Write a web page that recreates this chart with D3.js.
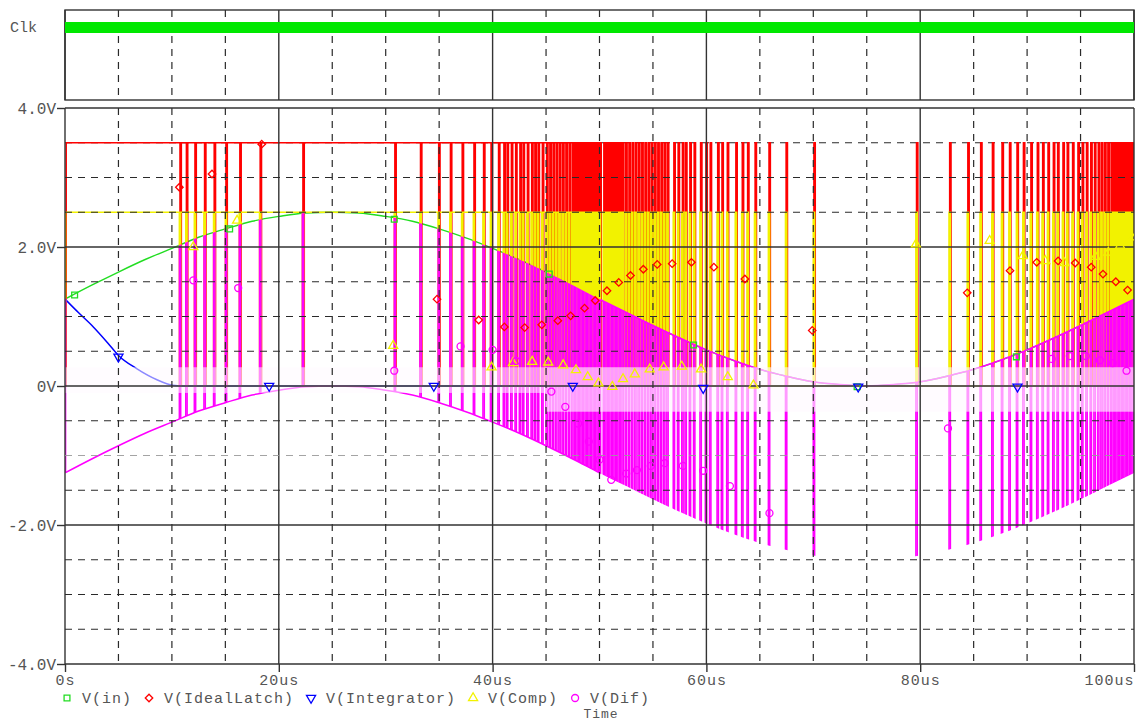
<!DOCTYPE html>
<html><head><meta charset="utf-8">
<script src="https://cdn.jsdelivr.net/npm/d3@7"></script>
<style>
body{margin:0;background:#fff;}
svg{display:block;}
text{font-family:"Liberation Mono","DejaVu Sans Mono",monospace;}
</style></head><body>
<svg id="chart" width="1136" height="722"></svg>
<script>
// ---------------- DATA ----------------
const timeTickValues = [0, 20, 40, 60, 80, 100];
const timeTickLabels = ["0s", "20us", "40us", "60us", "80us", "100us"];
const voltTickValues = [4, 2, 0, -2, -4];
const voltTickLabels = ["4.0V", "2.0V", "0V", "-2.0V", "-4.0V"];
const seriesNames = ["V(in)", "V(IdealLatch)", "V(Integrator)", "V(Comp)", "V(Dif)"];
const seriesColors = ["#22dd22", "#ff0000", "#0000ff", "#f2f200", "#ff00ff"];
const clkLabel = "Clk";
const xTitle = "Time";

// sampled analog traces (us, V)
const sampleTimes = [0,2.5,5,7.5,10,12.5,15,17.5,20,22.5,25,27.5,30,32.5,35,37.5,40,42.5,45,47.5,50,
  52.5,55,57.5,60,62.5,65,67.5,70,72.5,75,77.5,80,82.5,85,87.5,90,92.5,95,97.5,100];
const vinValues = [1.25,1.45,1.64,1.82,1.98,2.14,2.26,2.37,2.44,2.49,2.50,2.49,2.44,2.37,2.26,2.13,1.98,1.82,1.64,1.45,1.25,
  1.06,0.87,0.69,0.52,0.37,0.24,0.14,0.06,0.02,0.00,0.02,0.06,0.14,0.24,0.37,0.52,0.69,0.87,1.06,1.25];
const difLowerValues = [-1.25,-1.05,-0.86,-0.68,-0.52,-0.36,-0.24,-0.13,-0.06,-0.01,0.00,-0.01,-0.06,-0.13,-0.24,-0.37,-0.52,-0.68,-0.86,-1.05,-1.25,
  -1.44,-1.63,-1.81,-1.98,-2.13,-2.26,-2.36,-2.44,-2.48,-2.50,-2.48,-2.44,-2.36,-2.26,-2.13,-1.98,-1.81,-1.63,-1.44,-1.25];
const integratorPoints = [[0,1.25],[1.3,1.05],[2.65,0.85],[4.0,0.62],[5.0,0.44],[6.7,0.25],[8.6,0.09],[10.1,0.01],[11.0,0.0],[100,0.0]];

// digital traces
const latchHigh = 3.5;
const compHigh = 2.5;
const compPulseWidth = 0.12;   // us
const latchDelay = 0.06;       // us
const compStartEdge = 0.05;
const compLowPulseTimes = [10.7,11.3,12.1,13.0,13.9,15.0,16.3,18.2,22.2,30.8,33.2,34.9,36.0,37.1,38.2,39.1,39.8,
  40.5,41.0,41.3,41.7,42.1,42.5,42.8,43.2,43.6,43.9,44.2,44.6,45.0,45.3,45.6,45.9,46.2,46.5,46.8,47.1,47.4,47.65,
  47.9,48.15,48.4,48.65,48.9,49.15,49.4,49.65,49.9];
const compSwitchTime = 50.1;
const compHighPulseTimes = [50.35,50.6,50.85,51.1,51.35,51.6,51.85,52.1,52.4,52.7,53.0,53.3,53.6,53.9,54.2,54.5,54.8,
  55.1,55.4,55.7,56.0,56.3,56.9,57.3,57.7,58.0,58.4,58.8,59.4,59.9,60.3,61.0,61.4,61.9,62.7,63.3,63.8,64.5,65.8,67.4,
  70.0,79.6,82.7,84.4,85.6,86.7,87.6,88.3,89.0,89.6,90.3,90.9,91.4,91.9,92.4,92.8,93.3,93.7,94.2,94.7,95.1,95.5,95.9,
  96.25,96.6,96.9,97.2,97.5,97.8,98.05,98.3,98.55,98.8,99.05,99.3,99.55,99.8];
const clkSpan = [0, 100];
const clkLevels = [0, 1];

// trace markers (us, V)
const vinMarkers = [[0.9,1.31],[15.4,2.26],[30.8,2.40],[45.3,1.61],[58.8,0.59],[74.1,-0.01],[89.0,0.42]];
const latchMarkers = [[10.7,2.86],[13.75,3.05],[18.4,3.48],[34.8,1.25],[38.7,0.95],[41.1,0.85],[43.0,0.84],[44.6,0.88],
  [46.1,0.94],[47.3,1.01],[48.6,1.12],[49.6,1.23],[50.7,1.37],[51.8,1.49],[52.9,1.59],[54.1,1.68],[55.4,1.75],[56.8,1.76],
  [58.6,1.78],[60.7,1.71],[63.6,1.54],[69.9,0.80],[84.4,1.34],[88.4,1.66],[90.9,1.78],[92.9,1.80],[94.5,1.77],[96.0,1.71],
  [97.1,1.61],[98.3,1.50],[99.4,1.38]];
const integratorMarkers = [[5.0,0.42],[19.1,0.0],[34.5,0.0],[47.5,0.0],[59.7,-0.03],[74.2,-0.01],[89.1,-0.01]];
const compMarkers = [[12.0,2.0],[16.1,2.38],[30.7,0.58],[39.9,0.27],[41.9,0.33],[43.7,0.35],[45.2,0.34],[46.6,0.30],
  [47.8,0.23],[48.9,0.13],[49.9,0.04],[51.2,-0.01],[52.2,0.10],[53.3,0.17],[54.7,0.24],[56.0,0.27],[57.7,0.28],[59.5,0.24],
  [62.0,0.13],[64.4,0.01],[79.6,2.04],[86.5,2.09],[89.6,1.87],[91.7,1.80],[93.5,1.77],[96.4,1.86],[97.6,1.92],[98.7,2.02],[99.8,2.14]];
const difMarkers = [[12.0,1.52],[16.2,1.41],[30.8,0.22],[37.0,0.57],[40.0,0.52],[42.2,0.36],[45.5,-0.08],[46.8,-0.30],
  [48.0,-0.54],[49.0,-0.80],[50.0,-1.06],[51.1,-1.35],[52.5,-1.26],[53.5,-1.21],[54.8,-1.15],[56.1,-1.11],[57.8,-1.15],
  [59.7,-1.22],[62.2,-1.44],[65.9,-1.83],[82.6,-0.61],[92.3,0.39],[94.0,0.43],[95.5,0.43],[96.8,0.37],[98.0,0.33],[99.3,0.22]];

// ---------------- LAYOUT ----------------
const svg = d3.select("#chart");
const L = 65, R = 1134;
const mainTop = 108, mainBottom = 664;
const clkTop = 10, clkBottom = 100;
const x = d3.scaleLinear().domain([0, 100]).range([L, R]);
const y = d3.scaleLinear().domain([-4, 4]).range([mainBottom, mainTop]);
const yc = d3.scaleLinear().domain([0, 1]).range([33, 22]);

const defs = svg.append("defs");
defs.append("clipPath").attr("id", "plotClip").append("rect")
  .attr("x", L).attr("y", mainTop).attr("width", R - L).attr("height", mainBottom - mainTop);

const gridColor = "#2a2a2a";
const dash = "7,6";
const xGrid = x.ticks(20);
const yGrid = y.ticks(16);
const isMajorX = t => Math.abs(t % 20) < 1e-9;
const isMajorY = v => Math.abs(v % 2) < 1e-9;

function drawVGrid(g, top, bottom) {
  g.selectAll(null).data(xGrid).join("line")
    .attr("x1", d => x(d)).attr("x2", d => x(d))
    .attr("y1", top).attr("y2", bottom)
    .attr("stroke", d => isMajorX(d) ? "#333" : gridColor)
    .attr("stroke-width", d => isMajorX(d) ? 1.4 : 1.2)
    .attr("stroke-dasharray", d => isMajorX(d) ? null : dash);
}
function drawHGrid(g, vals) {
  g.selectAll(null).data(vals).join("line")
    .attr("x1", L).attr("x2", R)
    .attr("y1", d => y(d)).attr("y2", d => y(d))
    .attr("stroke", d => isMajorY(d) ? "#333" : (Math.abs(d + 1) < 1e-9 ? "#9a9a9a" : gridColor))
    .attr("stroke-width", d => isMajorY(d) ? 1.4 : (Math.abs(d + 1) < 1e-9 ? 0.9 : 1.2))
    .attr("stroke-dasharray", d => isMajorY(d) ? null : dash);
}

// ---------- CLK PANEL ----------
const clkG = svg.append("g");
drawVGrid(clkG, clkTop, clkBottom);
clkG.append("rect").attr("x", L).attr("y", clkTop).attr("width", R - L).attr("height", clkBottom - clkTop)
  .attr("fill", "none").attr("stroke", "#333").attr("stroke-width", 1.4);
const clkArea = d3.area().x(d => x(d)).y0(yc(clkLevels[0])).y1(yc(clkLevels[1]));
clkG.append("path").attr("d", clkArea(clkSpan)).attr("fill", "#00e800");
clkG.append("text").attr("x", 10).attr("y", 32).attr("fill", "#555").attr("font-size", "15px").text(clkLabel);

// ---------- MAIN PANEL ----------
const gridBottom = svg.append("g");
drawHGrid(gridBottom, yGrid.filter(v => Math.abs(v - 3.5) < 1e-9));

const traces = svg.append("g").attr("clip-path", "url(#plotClip)");

const toggles = [compStartEdge];
compLowPulseTimes.forEach(t => toggles.push(t, t + compPulseWidth));
toggles.push(compSwitchTime);
compHighPulseTimes.forEach(t => toggles.push(t, t + compPulseWidth));
toggles.sort((a, b) => a - b);

function stepSeries(edges, high, delay) {
  const pts = [[0, 0]];
  let lev = 0;
  edges.forEach(t => { lev = 1 - lev; pts.push([t + delay, lev * high]); });
  pts.push([100, lev * high]);
  return pts;
}
const latchSeries = stepSeries(toggles, latchHigh, latchDelay);
const compSeries = stepSeries(toggles, compHigh, 0);

const smoothLine = d3.line().x((d, i) => x(sampleTimes[i])).curve(d3.curveMonotoneX);
const stepLine = d3.line().x(d => x(d[0])).y(d => y(d[1])).curve(d3.curveStepAfter);

traces.append("path").attr("d", smoothLine.y(d => y(d))(vinValues))
  .attr("fill", "none").attr("stroke", seriesColors[0]).attr("stroke-width", 1.4);
traces.append("path").attr("d", stepLine(latchSeries))
  .attr("fill", "none").attr("stroke", seriesColors[1]).attr("stroke-width", 1.6);
traces.append("path").attr("d", d3.line().x(d => x(d[0])).y(d => y(d[1])).curve(d3.curveMonotoneX)(integratorPoints))
  .attr("fill", "none").attr("stroke", seriesColors[2]).attr("stroke-width", 1.5);
traces.append("path").attr("d", stepLine(compSeries))
  .attr("fill", "none").attr("stroke", seriesColors[3]).attr("stroke-width", 1.6);

const difArea = d3.area().x((d, i) => x(sampleTimes[i]))
  .y0((d, i) => y(difLowerValues[i])).y1((d, i) => y(vinValues[i])).curve(d3.curveMonotoneX);
defs.append("clipPath").attr("id", "difClip").append("path").attr("d", difArea(sampleTimes));
defs.append("clipPath").attr("id", "lowClip").append("rect")
  .attr("x", x(compStartEdge)).attr("y", mainTop).attr("width", x(compSwitchTime) - x(compStartEdge)).attr("height", mainBottom - mainTop);
defs.append("clipPath").attr("id", "highClip").append("rect")
  .attr("x", x(compSwitchTime)).attr("y", mainTop).attr("width", x(100) - x(compSwitchTime) + 2).attr("height", mainBottom - mainTop);

const difG = traces.append("g");
difG.append("g").attr("clip-path", "url(#difClip)")
  .selectAll("line").data(toggles).join("line")
  .attr("x1", d => x(d)).attr("x2", d => x(d)).attr("y1", y(-4)).attr("y2", y(4))
  .attr("stroke", seriesColors[4]).attr("stroke-width", 1.6);
difG.append("path").attr("clip-path", "url(#lowClip)")
  .attr("d", smoothLine.y(d => y(d))(difLowerValues))
  .attr("fill", "none").attr("stroke", seriesColors[4]).attr("stroke-width", 1.5);
difG.append("path").attr("clip-path", "url(#highClip)")
  .attr("d", smoothLine.y(d => y(d))(vinValues))
  .attr("fill", "none").attr("stroke", seriesColors[4]).attr("stroke-width", 1.5);

// pale wash band near 0V (washes out traces underneath)
const band = svg.append("g");
band.append("rect").attr("x", x(0)).attr("width", x(45) - x(0))
  .attr("y", y(0.27)).attr("height", y(-0.1) - y(0.27))
  .attr("fill", "#fffaff").attr("opacity", 0.55);
band.append("rect").attr("x", x(45)).attr("width", x(100) - x(45))
  .attr("y", y(0.27)).attr("height", y(-0.37) - y(0.27))
  .attr("fill", "#fff8ff").attr("opacity", 0.62);

const gridTop = svg.append("g");
drawVGrid(gridTop, mainTop, mainBottom);
drawHGrid(gridTop, yGrid.filter(v => Math.abs(v - 3.5) > 1e-9));

function markerPath(i) {
  const types = [d3.symbolSquare, d3.symbolSquare, d3.symbolTriangle, d3.symbolTriangle, d3.symbolCircle];
  const sizes = [34, 28, 36, 36, 38];
  return d3.symbol().type(types[i]).size(sizes[i])();
}
const markerRot = [0, 45, 180, 0, 0];
function drawMarkers(g, data, i) {
  g.selectAll(null).data(data).join("path")
    .attr("d", markerPath(i))
    .attr("transform", d => `translate(${x(d[0])},${y(d[1])}) rotate(${markerRot[i]})`)
    .attr("fill", "none").attr("stroke", seriesColors[i]).attr("stroke-width", 1.3);
}
const markG = svg.append("g").attr("clip-path", "url(#plotClip)");
[vinMarkers, latchMarkers, integratorMarkers, compMarkers, difMarkers].forEach((m, i) => drawMarkers(markG, m, i));

const fontSize = "15px";
const yAxis = svg.append("g").attr("transform", `translate(${L},0)`)
  .call(d3.axisLeft(y).tickValues(voltTickValues).tickFormat((d, i) => voltTickLabels[i]).tickSize(8).tickPadding(1));
const xAxis = svg.append("g").attr("transform", `translate(0,${mainBottom})`)
  .call(d3.axisBottom(x).tickValues(timeTickValues).tickFormat((d, i) => timeTickLabels[i]).tickSize(8).tickPadding(2.5));
[xAxis, yAxis].forEach(a => {
  a.select(".domain").remove();
  a.selectAll(".tick line").attr("stroke", "#333").attr("stroke-width", 1.4);
  a.selectAll(".tick text").attr("fill", "#555").style("font-size", fontSize)
    .style("font-family", '"Liberation Mono","DejaVu Sans Mono",monospace');
});
yAxis.selectAll(".tick text").style("font-size", "16px");
xAxis.selectAll(".tick text").style("letter-spacing", "1px");
xAxis.selectAll(".tick text").filter((d, i) => i === timeTickValues.length - 1).attr("text-anchor", "end");

const legend = svg.append("g");
let lx = 67;
seriesNames.forEach((name, i) => {
  legend.append("path").attr("d", markerPath(i))
    .attr("transform", `translate(${lx},698) rotate(${markerRot[i]})`)
    .attr("fill", "none").attr("stroke", seriesColors[i]).attr("stroke-width", 1.3);
  const t = legend.append("text").attr("x", lx + 15).attr("y", 702.6)
    .attr("fill", "#555").style("font-size", fontSize).style("letter-spacing", "1px").text(name);
  lx = lx + 15 + t.node().getComputedTextLength() + 17;
});
svg.append("text").attr("x", 601).attr("y", 718).attr("text-anchor", "middle")
  .attr("fill", "#555").style("font-size", "13px").style("letter-spacing", "1px").text(xTitle);
</script>
</body></html>
